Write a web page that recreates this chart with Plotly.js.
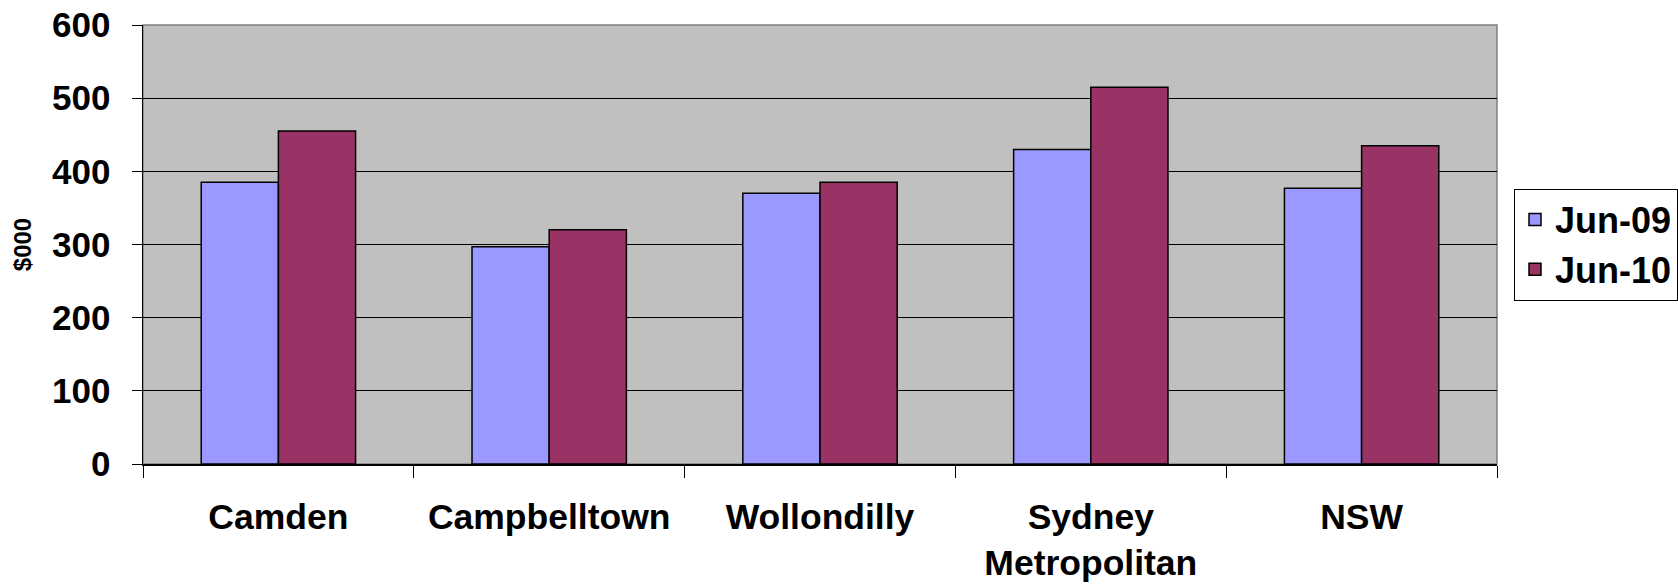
<!DOCTYPE html>
<html>
<head>
<meta charset="utf-8">
<script src="https://cdn.plot.ly/plotly-3.0.1.min.js"></script>
<style>
html,body{margin:0;padding:0;background:#fff;}
#chart{width:1678px;height:585px;}
</style>
</head>
<body>
<div id="chart"></div>
<script>
const categories = ["Camden", "Campbelltown", "Wollondilly", "Sydney<br>Metropolitan", "NSW"];
const jun09 = [385, 297, 370, 430, 377];
const jun10 = [455, 320, 385, 515, 435];
const seriesNames = ["Jun-09", "Jun-10"];
const yTickVals = [0, 100, 200, 300, 400, 500, 600];

const FONT = "'Liberation Sans', Arial, sans-serif";

const traces = [
  {
    type: "bar", name: seriesNames[0], x: categories, y: jun09,
    marker: {color: "#9999FF", line: {color: "#000000", width: 1.5}}
  },
  {
    type: "bar", name: seriesNames[1], x: categories, y: jun10,
    marker: {color: "#993366", line: {color: "#000000", width: 1.5}}
  }
];

const layout = {
  width: 1678, height: 585,
  margin: {l: 143, r: 181, t: 25, b: 121, pad: 0},
  paper_bgcolor: "#ffffff",
  plot_bgcolor: "#C0C0C0",
  barmode: "group",
  bargap: 0.43,
  bargroupgap: 0,
  font: {family: FONT, color: "#000000"},
  xaxis: {
    type: "category",
    showgrid: false,
    showline: true, linecolor: "#000000", linewidth: 1.5,
    ticks: "outside", ticklen: 12, tickwidth: 1, tickcolor: "#000000",
    tickson: "boundaries",
    tickfont: {family: FONT, size: 35.5, weight: "bold", color: "#000000"},
    ticklabelstandoff: 21,
    fixedrange: true
  },
  yaxis: {
    range: [0, 600],
    tickvals: yTickVals,
    showgrid: true, gridcolor: "#000000", gridwidth: 1,
    zeroline: false,
    showline: true, linecolor: "#000000", linewidth: 1.5,
    ticks: "outside", ticklen: 10, tickwidth: 1, tickcolor: "#000000",
    tickfont: {family: FONT, size: 35, weight: "bold", color: "#000000"},
    ticklabelstandoff: 14,
    title: {text: "$000", font: {family: FONT, size: 24, weight: "bold", color: "#000000"}, standoff: 13},
    fixedrange: true
  },
  showlegend: true,
  legend: {
    xref: "container", yref: "container",
    x: 1514/1678, xanchor: "left",
    y: 1 - 244.5/585, yanchor: "middle",
    bgcolor: "#ffffff", bordercolor: "#000000", borderwidth: 1,
    font: {family: FONT, size: 36, weight: "bold", color: "#000000"},
    itemwidth: 30,
    tracegroupgap: 0
  },
  shapes: [
    {type: "rect", xref: "paper", yref: "paper", x0: 0, x1: 1, y0: 0, y1: 1,
     line: {color: "#808080", width: 1.5}, fillcolor: "rgba(0,0,0,0)", layer: "below"}
  ]
};

Plotly.newPlot("chart", traces, layout, {staticPlot: true, displayModeBar: false});
</script>
</body>
</html>
